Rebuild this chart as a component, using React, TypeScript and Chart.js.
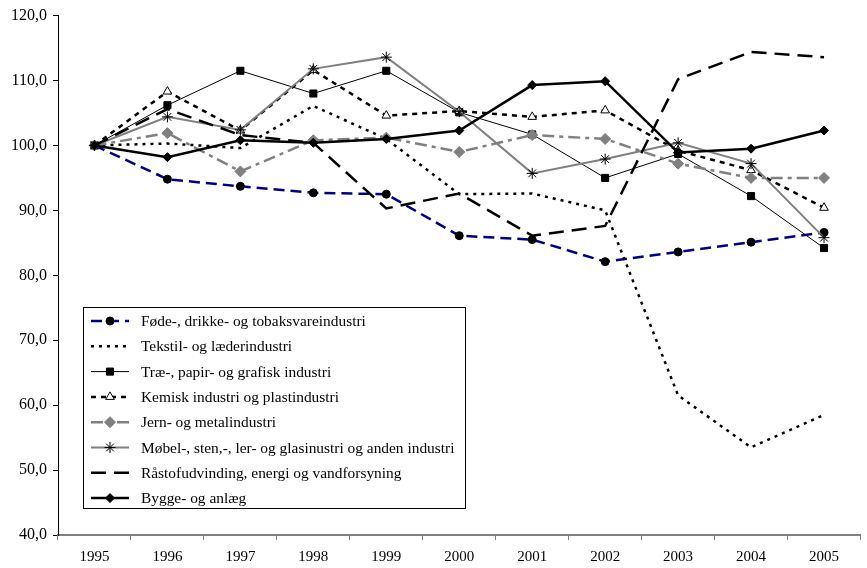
import React, { useEffect, useRef } from "react";
import { Chart, registerables } from "chart.js";
import { drawPoint } from "chart.js/helpers";

Chart.register(...registerables);

const years = ["1995", "1996", "1997", "1998", "1999", "2000", "2001", "2002", "2003", "2004", "2005"];

const seriesNames = [
  "Føde-, drikke- og tobaksvareindustri",
  "Tekstil- og læderindustri",
  "Træ-, papir- og grafisk industri",
  "Kemisk industri og plastindustri",
  "Jern- og metalindustri",
  "Møbel-, sten,-, ler- og glasinustri og anden industri",
  "Råstofudvinding, energi og vandforsyning",
  "Bygge- og anlæg",
];

const fode = [100, 94.8, 93.7, 92.7, 92.5, 86.1, 85.5, 82.1, 83.6, 85.1, 86.6];
const tekstil = [100, 100.3, 99.6, 106.1, 101.0, 92.5, 92.6, 90.0, 61.5, 53.5, 58.5];
const trae = [100, 106.2, 111.5, 108.0, 111.5, 105.1, 101.7, 95.0, 98.7, 92.2, 84.2];
const kemisk = [100, 108.3, 102.3, 111.6, 104.6, 105.3, 104.4, 105.4, 99.2, 96.2, 90.4];
const jern = [100, 101.9, 96.0, 100.8, 101.2, 99.0, 101.6, 101.0, 97.2, 95.0, 95.0];
const mobel = [100, 104.4, 102.4, 111.8, 113.6, 105.2, 95.7, 97.9, 100.4, 97.2, 85.8];
const rastof = [100, 105.6, 101.6, 100.4, 90.3, 92.6, 86.1, 87.6, 110.2, 114.4, 113.6];
const bygge = [100, 98.2, 100.8, 100.4, 101.0, 102.3, 109.3, 109.9, 98.9, 99.5, 102.3];

const yTicks = { min: 40, max: 120, step: 10 };

const FONT = "'Liberation Serif', 'Times New Roman', serif";

type Style = {
  color: string;
  width: number;
  dash: number[];
  pointStyle: any;
  radius: number;
  pFill: string;
  pBorder: string;
  pBorderWidth: number;
};

const styles: Style[] = [
  { color: "#000080", width: 2.5, dash: [11, 6], pointStyle: "circle", radius: 4, pFill: "#000", pBorder: "#000", pBorderWidth: 1 },
  { color: "#000", width: 2.5, dash: [3, 5], pointStyle: false, radius: 0, pFill: "#000", pBorder: "#000", pBorderWidth: 1 },
  { color: "#000", width: 1, dash: [], pointStyle: "rect", radius: 5, pFill: "#000", pBorder: "#000", pBorderWidth: 1 },
  { color: "#000", width: 2.5, dash: [5, 5], pointStyle: "triangle", radius: 5, pFill: "#fff", pBorder: "#000", pBorderWidth: 1 },
  { color: "#808080", width: 2.5, dash: [12, 5, 4, 5], pointStyle: "rectRot", radius: 5.5, pFill: "#808080", pBorder: "#808080", pBorderWidth: 1 },
  { color: "#808080", width: 2, dash: [], pointStyle: "star", radius: 5.5, pFill: "#000", pBorder: "#000", pBorderWidth: 1 },
  { color: "#000", width: 2.5, dash: [15, 8], pointStyle: false, radius: 0, pFill: "#000", pBorder: "#000", pBorderWidth: 1 },
  { color: "#000", width: 2.5, dash: [], pointStyle: "rectRot", radius: 4.5, pFill: "#000", pBorder: "#000", pBorderWidth: 1 },
];

const seriesData = [fode, tekstil, trae, kemisk, jern, mobel, rastof, bygge];

const legendPlugin = {
  id: "boxLegend",
  afterDraw(chart: any) {
    const ctx = chart.ctx as CanvasRenderingContext2D;
    const x0 = 83.5, y0 = 307.5, w = 382, h = 201;
    ctx.save();
    ctx.fillStyle = "#fff";
    ctx.fillRect(x0, y0, w, h);
    ctx.strokeStyle = "#000";
    ctx.lineWidth = 1;
    ctx.setLineDash([]);
    ctx.strokeRect(x0, y0, w, h);
    ctx.font = `15.4px ${FONT}`;
    ctx.textBaseline = "middle";
    ctx.textAlign = "left";
    seriesNames.forEach((name, i) => {
      const s = styles[i];
      const yy = 321 + i * 25.3;
      ctx.strokeStyle = s.color;
      ctx.lineWidth = s.width;
      ctx.setLineDash(s.dash);
      ctx.beginPath();
      ctx.moveTo(91, yy);
      ctx.lineTo(129, yy);
      ctx.stroke();
      ctx.setLineDash([]);
      if (s.pointStyle) {
        ctx.fillStyle = s.pFill;
        ctx.strokeStyle = s.pBorder;
        ctx.lineWidth = s.pBorderWidth;
        drawPoint(ctx, { pointStyle: s.pointStyle, radius: s.radius, rotation: 0, borderWidth: s.pBorderWidth } as any, 110, yy);
      }
      ctx.fillStyle = "#000";
      ctx.fillText(name, 141, yy + 1);
    });
    ctx.restore();
  },
};

export default function App() {
  const ref = useRef<HTMLCanvasElement | null>(null);
  useEffect(() => {
    if (!ref.current) return;
    const n = seriesNames.length;
    const chart = new Chart(ref.current, {
      type: "line",
      data: {
        labels: years,
        datasets: seriesNames.map((name, i) => {
          const s = styles[i];
          return {
            label: name,
            data: seriesData[i],
            borderColor: s.color,
            borderWidth: s.width,
            borderDash: s.dash,
            pointStyle: s.pointStyle,
            pointRadius: s.radius,
            pointBackgroundColor: s.pFill,
            pointBorderColor: s.pBorder,
            pointBorderWidth: s.pBorderWidth,
            tension: 0,
            fill: false,
            order: n - 1 - i,
          } as any;
        }),
      },
      options: {
        animation: false,
        responsive: false,
        devicePixelRatio: 1,
        layout: { padding: { top: 15, right: 0, left: 0, bottom: 0 } },
        plugins: { legend: { display: false }, tooltip: { enabled: false } },
        events: [],
        scales: {
          x: {
            type: "category",
            offset: true,
            grid: { offset: true, drawOnChartArea: false, drawTicks: true, tickLength: 5, color: "#808080" },
            border: { color: "#808080", width: 2 },
            ticks: { color: "#000", font: { family: FONT, size: 15 }, padding: 8, maxRotation: 0 },
            afterFit: (s: any) => { s.height = 33; },
          },
          y: {
            min: yTicks.min,
            max: yTicks.max,
            grid: { drawOnChartArea: false, drawTicks: true, tickLength: 5, color: "#000" },
            border: { color: "#000", width: 1 },
            ticks: {
              stepSize: yTicks.step,
              color: "#000",
              font: { family: FONT, size: 16 },
              padding: 6,
              callback: (v: any) => Number(v).toFixed(1).replace(".", ","),
            },
            afterFit: (s: any) => { s.width = 58; },
          },
        },
      },
      plugins: [legendPlugin],
    });
    return () => chart.destroy();
  }, []);
  return (
    <div style={{ position: "absolute", left: 0, top: 0, width: 867, height: 568, background: "#fff" }}>
      <canvas ref={ref} width={867} height={568} />
    </div>
  );
}
